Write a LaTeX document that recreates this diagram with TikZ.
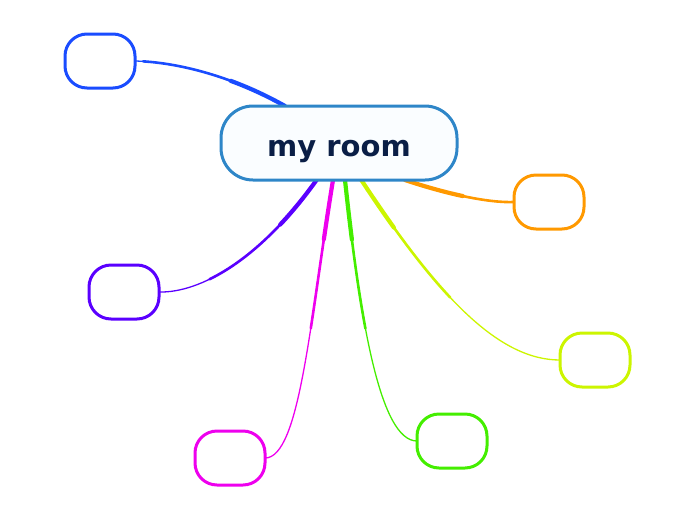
\documentclass[tikz,border=0pt]{standalone}
\usepackage{fontspec}
\setmainfont{DejaVu Sans}
\definecolor{cblue}{HTML}{1A4CFF}
\definecolor{corange}{HTML}{FF9900}
\definecolor{cpurple}{HTML}{5A00FF}
\definecolor{cyellow}{HTML}{CCF500}
\definecolor{cmagenta}{HTML}{EE00EE}
\definecolor{cgreen}{HTML}{44EE00}
\definecolor{cborder}{HTML}{2E86C8}
\definecolor{ctext}{HTML}{0A1E46}
\tikzset{
  topic/.style={draw=#1, line width=3pt, rounded corners=22pt, fill=white,
    minimum width=70pt, minimum height=54pt},
  branch/.style={draw=#1, line width=1.3pt, line cap=round,
    postaction={draw=#1, line width=2.6pt, dash pattern=on 150pt off 2000pt},
    postaction={draw=#1, line width=4.2pt, dash pattern=on 60pt off 2000pt}}
}
\begin{document}
\begin{tikzpicture}[x=1pt,y=-1pt]
\useasboundingbox (0,0) rectangle (696,520);
\draw[branch=cblue] (285,106) .. controls (230,75) and (175,62) .. (135,61);
\draw[branch=corange] (405,180) .. controls (450,195) and (490,203) .. (514,202);
\draw[branch=cpurple] (318,178) .. controls (260,260) and (200,293) .. (159,292);
\draw[branch=cyellow] (360,178) .. controls (440,300) and (500,360) .. (560,360);
\draw[branch=cmagenta] (333,180) .. controls (310,320) and (300,458) .. (265,458);
\draw[branch=cgreen] (345,180) .. controls (360,320) and (380,441) .. (417,441);

\node[draw=cborder, line width=3pt, rounded corners=32pt, fill=cyan!2,
  minimum width=236pt, minimum height=74pt, text=ctext,
  font=\fontsize{29}{34}\selectfont\bfseries] (room) at (339,143) {\raisebox{-13pt}[0pt][0pt]{my room}};

\node[topic=cblue] (t1) at (100,61) {};
\node[topic=corange] (t2) at (549,202) {};
\node[topic=cpurple] (t3) at (124,292) {};
\node[topic=cyellow] (t4) at (595,360) {};
\node[topic=cmagenta] (t5) at (230,458) {};
\node[topic=cgreen] (t6) at (452,441) {};
\end{tikzpicture}
\end{document}
